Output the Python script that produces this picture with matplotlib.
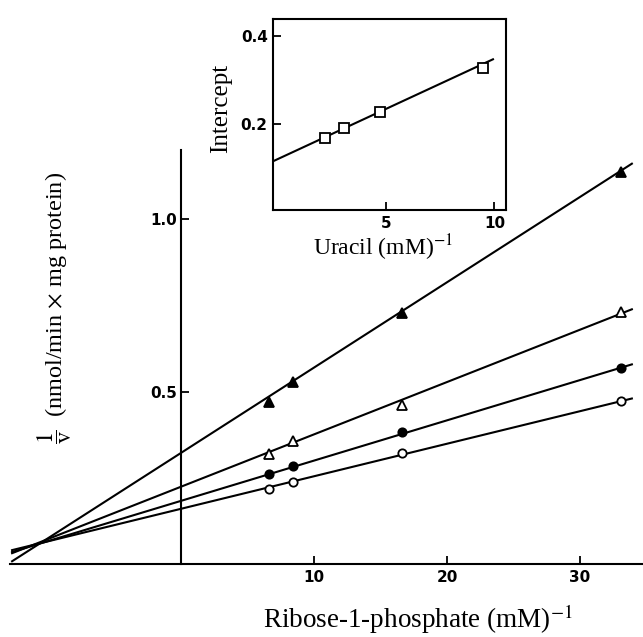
import numpy as np
import matplotlib
matplotlib.use("Agg")
import matplotlib.pyplot as plt

plt.rcParams['mathtext.fontset'] = 'stix'

# main plot: 1/v against 1/[ribose-1-phosphate], four uracil levels
r1p_inv = [6.6, 8.4, 16.6, 33.1]
v_inv_tri_filled = [0.469, 0.528, 0.727, 1.137]
v_inv_tri_open = [0.320, 0.356, 0.462, 0.729]
v_inv_circ_filled = [0.262, 0.283, 0.382, 0.569]
v_inv_circ_open = [0.217, 0.2375, 0.322, 0.472]

# fitted lines as drawn in the figure (intercept at x=0, slope)
line_icpt = [0.322, 0.224, 0.183, 0.160]
line_slope = [0.02473, 0.01517, 0.01167, 0.00943]
line_x = [-12.7, 33.9]

# inset: intercept against 1/[uracil]
uracil_inv = [2.19, 3.07, 4.73, 9.49]
intercept = [0.168, 0.191, 0.229, 0.327]
inset_icpt = 0.121
inset_slope = 0.0228
inset_line_x = [-0.19, 9.93]

W, H = 643, 637
fig = plt.figure(figsize=(W / 100, H / 100), dpi=100)

tick_font = dict(family='DejaVu Sans', size=11, weight='bold')
label_font = dict(family='Liberation Serif', size=18)

ax = fig.add_axes([10 / W, (H - 564) / H, 633 / W, 414 / H])
ax.set_xlim(-12.857, 34.737)
ax.set_ylim(0, 1.2)
ax.spines['top'].set_visible(False)
ax.spines['right'].set_visible(False)
ax.spines['left'].set_position(('data', 0))
for s in ('left', 'bottom'):
    ax.spines[s].set_linewidth(1.5)

series = [
    (v_inv_tri_filled, '^', 'black', 7),
    (v_inv_tri_open, '^', 'white', 7),
    (v_inv_circ_filled, 'o', 'black', 6),
    (v_inv_circ_open, 'o', 'white', 6),
]
xs = np.array(line_x)
for (yv, mk, fc, ms), b, m in zip(series, line_icpt, line_slope):
    ax.plot(xs, b + m * xs, color='black', lw=1.5, zorder=2)
    ax.plot(r1p_inv, yv, ls='none', marker=mk, ms=ms, mfc=fc, mec='black',
            mew=1.3, zorder=3)

ax.set_xticks([10, 20, 30])
ax.set_yticks([0.5, 1.0])
ax.set_yticklabels(['0.5', '1.0'])
ax.tick_params(axis='x', direction='in', length=6, width=1.3, pad=4)
ax.tick_params(axis='y', direction='in', length=6, width=1.3, pad=3)
for lab in ax.get_xticklabels() + ax.get_yticklabels():
    lab.set(**tick_font)

fig.text(418 / W, 1 - 619 / H, r'Ribose-1-phosphate (mM)$^{-1}$',
         ha='center', va='center', family='Liberation Serif', size=19.5)
fig.text(55 / W, 1 - 308 / H,
         r'$\dfrac{1}{\mathrm{v}}$  (nmol/min $\times$ mg protein)',
         rotation=90, ha='center', va='center', family='Liberation Serif', size=17.5)

# inset
ins = fig.add_axes([273.3 / W, (H - 210) / H, (506 - 273.3) / W, (210 - 19.3) / H])
ins.set_xlim(-0.19, 10.53)
ins.set_ylim(0.006, 0.438)
for s in ins.spines.values():
    s.set_linewidth(1.5)
ix = np.array(inset_line_x)
ins.plot(ix, inset_icpt + inset_slope * ix, color='black', lw=1.5, zorder=2)
ins.plot(uracil_inv, intercept, ls='none', marker='s', ms=6.5, mfc='white',
         mec='black', mew=1.3, zorder=3)
ins.set_xticks([5, 10])
ins.set_yticks([0.2, 0.4])
ins.set_yticklabels(['0.2', '0.4'])
ins.tick_params(axis='both', direction='in', length=6, width=1.3, pad=4)
for lab in ins.get_xticklabels() + ins.get_yticklabels():
    lab.set(**tick_font)

fig.text(221 / W, 1 - 108 / H, 'Intercept', rotation=90, ha='center',
         va='center', **label_font)
fig.text(383 / W, 1 - 248 / H, r'Uracil (mM)$^{-1}$', ha='center',
         va='center', family='Liberation Serif', size=17)

fig.savefig('out.png', dpi=100)
